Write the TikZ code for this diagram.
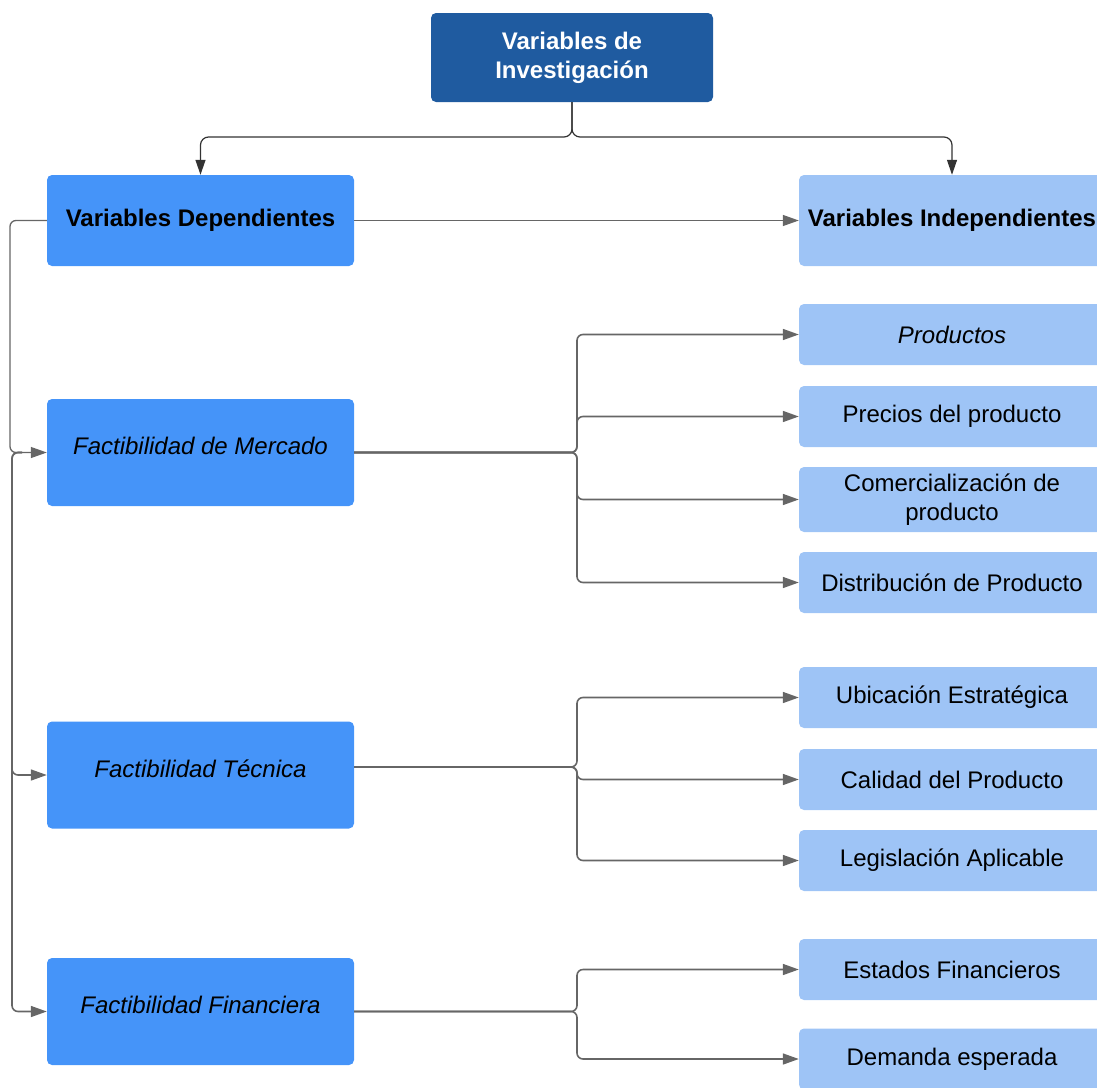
\documentclass[tikz,border=0pt]{standalone}
\usepackage{fontspec}
\setmainfont{Liberation Sans}
\usetikzlibrary{arrows.meta}
\definecolor{topblue}{HTML}{1F5BA0}
\definecolor{midblue}{HTML}{4594F9}
\definecolor{lightblue}{HTML}{9EC4F6}
\definecolor{linkgray}{HTML}{666666}
\tikzset{
  box/.style={rectangle, rounded corners=5pt, draw=none, align=center,
    font=\fontsize{24}{29}\selectfont, text=black, inner sep=0pt},
  topbox/.style={box, fill=topblue, text=white, font=\fontsize{24}{29}\selectfont\bfseries,
    minimum width=282pt, minimum height=89pt},
  depbox/.style={box, fill=midblue, minimum width=307pt, minimum height=107pt},
  factbox/.style={depbox, font=\fontsize{24}{29}\selectfont\itshape,
    text height=17.2pt, text depth=13.2pt},
  indbox/.style={box, fill=lightblue, minimum width=306pt, minimum height=61pt},
  link/.style={draw=linkgray, line width=1.6pt, rounded corners=6pt,
    -{Triangle[length=16pt,width=11pt]}},
  toplink/.style={draw=black!80, line width=1.2pt, rounded corners=8pt,
    -{Triangle[length=15pt,width=10pt]}},
}
\begin{document}
\begin{tikzpicture}[x=1pt,y=-1pt]
\useasboundingbox (0,0) rectangle (1097,1087);
\clip (0,0) rectangle (1097,1087);

% root
\node[topbox] (root) at (572,57.5) {Variables de\\Investigación};

% headings
\node[depbox, minimum height=91pt, font=\fontsize{24}{29}\selectfont\bfseries] (dep) at (200.5,220.5) {Variables Dependientes};
\node[indbox, minimum height=91pt, font=\fontsize{24}{29}\selectfont\bfseries] (ind) at (952,220.5) {Variables Independientes};

% dependent variables
\node[factbox] (mer) at (200.5,452.5) {Factibilidad de Mercado};
\node[factbox] (tec) at (200.5,775) {Factibilidad Técnica};
\node[factbox] (fin) at (200.5,1011.5) {Factibilidad Financiera};

% independent variables
\node[indbox, font=\fontsize{24}{29}\selectfont\itshape] (prod) at (952,334.5) {Productos};
\node[indbox] (prec) at (952,416.5) {Precios del producto};
\node[indbox, minimum height=65pt] (com) at (952,499.5) {Comercialización de\\producto};
\node[indbox] (dis) at (952,582.5) {Distribución de Producto};
\node[indbox] (ubi) at (952,697.5) {Ubicación Estratégica};
\node[indbox] (cal) at (952,779.5) {Calidad del Producto};
\node[indbox] (leg) at (952,860.5) {Legislación Aplicable};
\node[indbox] (est) at (952,969.5) {Estados Financieros};
\node[indbox] (dem) at (952,1059) {Demanda esperada};

% root split
\coordinate (rj) at (572,137);
\draw[toplink] (root.south) -- (rj) -| (dep.north);
\draw[toplink] (root.south) -- (rj) -| (ind.north);

% dependent to independent
\draw[link, line width=1.3pt] (dep.east) -- (ind.west);

% left bus
\draw[link, line width=1.3pt] (dep.west) -- (10,220.5) -- (10,452.5) -- (mer.west);
\coordinate (lj) at (22,452.5);
\draw[link] (lj) -- (12,452.5) -- (12,775) -- (tec.west);
\draw[link] (lj) -- (12,452.5) -- (12,1011.5) -- (fin.west);

% market branch
\foreach \t in {prod,prec,com,dis}
  \draw[link] (mer.east) -- (577,452.5) |- (\t.west);
% technical branch
\foreach \t in {ubi,cal,leg}
  \draw[link] ([yshift=8pt]tec.east) -- (577,767) |- (\t.west);
% financial branch
\foreach \t in {est,dem}
  \draw[link] (fin.east) -- (577,1011.5) |- (\t.west);
\end{tikzpicture}
\end{document}
